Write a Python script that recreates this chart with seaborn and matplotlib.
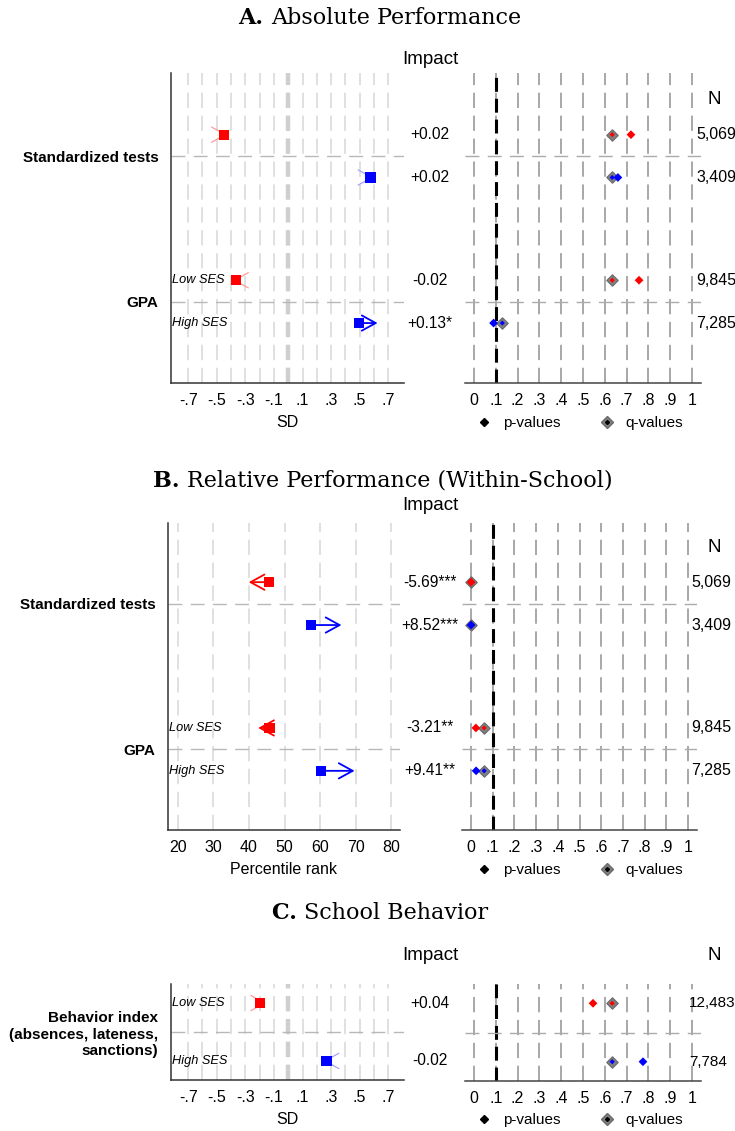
import matplotlib
matplotlib.use("Agg")
import matplotlib.pyplot as plt
import seaborn as sns
import pandas as pd
import numpy as np
from matplotlib.lines import Line2D
from matplotlib.transforms import blended_transform_factory as btf

sns.set_style("white")
plt.rcParams["font.family"] = ["Liberation Sans", "DejaVu Sans"]
plt.rcParams["lines.scale_dashes"] = False
for k in ["text.color", "axes.labelcolor", "xtick.color", "ytick.color"]:
    plt.rcParams[k] = "black"

# ---------------- data ----------------
RED, BLUE = "#ff0000", "#0000ff"
PALE = {RED: "#ff9c9c", BLUE: "#a4a4ff"}

titles = [("A.", "Absolute Performance"),
          ("B.", "Relative Performance (Within-School)"),
          ("C.", "School Behavior")]

groups_AB = ["Standardized tests", "GPA"]
group_C = ["Behavior index\n(absences, lateness,\nsanctions)"]
ses_labels = ["Low SES", "High SES"]

row_colors = [RED, BLUE, RED, BLUE]
row_colors_C = [RED, BLUE]

A_base = [-0.45, 0.575, -0.365, 0.495]
A_impact = [0.02, 0.02, -0.02, 0.13]
A_impact_text = ["+0.02", "+0.02", "-0.02", "+0.13*"]
A_sig = [False, False, False, True]
A_p = [0.72, 0.66, 0.757, 0.09]
A_q = [0.634, 0.634, 0.634, 0.13]
A_N = ["5,069", "3,409", "9,845", "7,285"]

B_base = [45.6, 57.5, 45.8, 60.3]
B_impact = [-5.69, 8.52, -3.21, 9.41]
B_impact_text = ["-5.69***", "+8.52***", "-3.21**", "+9.41**"]
B_sig = [True, True, True, True]
B_p = [0.001, 0.001, 0.023, 0.024]
B_q = [0.001, 0.001, 0.061, 0.061]
B_N = ["5,069", "3,409", "9,845", "7,285"]

C_base = [-0.195, 0.268]
C_impact = [0.04, -0.02]
C_impact_text = ["+0.04", "-0.02"]
C_sig = [False, False]
C_p = [0.546, 0.775]
C_q = [0.634, 0.634]
C_N = ["12,483", "7,784"]

sd_ticks = [-0.7, -0.5, -0.3, -0.1, 0.1, 0.3, 0.5, 0.7]
sd_ticklabels = ["-.7", "-.5", "-.3", "-.1", ".1", ".3", ".5", ".7"]
pct_ticks = [20, 30, 40, 50, 60, 70, 80]
pct_ticklabels = ["20", "30", "40", "50", "60", "70", "80"]
p_ticks = [0, 0.1, 0.2, 0.3, 0.4, 0.5, 0.6, 0.7, 0.8, 0.9, 1.0]
p_ticklabels = ["0", ".1", ".2", ".3", ".4", ".5", ".6", ".7", ".8", ".9", "1"]

# ---------------- layout ----------------
W, H = 735, 1131
fig = plt.figure(figsize=(W / 100, H / 100), dpi=100)


def box(x0, y0, x1, y1):
    return [x0 / W, 1 - y1 / H, (x1 - x0) / W, (y1 - y0) / H]


def fx(x):
    return x / W


def fy(y):
    return 1 - y / H


VDASH = (0, (11, 5.5))
HDASH = (0, (10, 6))
FS = 11.2


def left_panel(ax, base, impact, itext, sig, colors, ypos, ylim, seps,
               groups, sub_rows, xlim, ticks, ticklabels, grid, zero, xlabel,
               impact_x):
    df = pd.DataFrame({"base": base, "y": ypos, "color": colors})
    ax.set_xlim(*xlim)
    ax.set_ylim(*ylim)
    for g in grid:
        ax.axvline(g, color="#dddddd", lw=1.3, ls=VDASH, zorder=0)
    if zero:
        ax.axvline(0, color="#cfcfcf", lw=3.2, ls=VDASH, zorder=0)
    for s in seps:
        ax.axhline(s, color="#b8b8b8", lw=1.0, ls=HDASH, zorder=1)
    for b, d, yy, c, sg in zip(base, impact, ypos, colors, sig):
        col = c if sg else PALE[c]
        ax.annotate("", xy=(b + d, yy), xytext=(b, yy),
                    arrowprops=dict(arrowstyle="->,head_length=1.0,head_width=0.55",
                                    color=col, lw=1.3 if sg else 0.9,
                                    shrinkA=0, shrinkB=0, mutation_scale=10),
                    zorder=3)
    sns.scatterplot(data=df, x="base", y="y", hue="color",
                    palette={RED: RED, BLUE: BLUE}, marker="s", s=55,
                    linewidth=0, legend=False, ax=ax, zorder=5)
    ax.set_xticks(ticks)
    ax.set_xticklabels(ticklabels, fontsize=11.5)
    ax.set_yticks(seps)
    ax.set_yticklabels(groups, fontsize=11, fontweight="bold")
    ax.tick_params(axis="x", length=0, pad=7)
    ax.tick_params(axis="y", length=6, width=1, color="#333333", pad=3)
    ax.set_xlabel(xlabel, fontsize=11.5, labelpad=5)
    ax.set_ylabel("")
    for sp in ["top", "right"]:
        ax.spines[sp].set_visible(False)
    for sp in ["left", "bottom"]:
        ax.spines[sp].set_color("#333333")
        ax.spines[sp].set_linewidth(1.1)
    tr_sub = btf(ax.transAxes, ax.transData)
    for i in sub_rows:
        ax.text(0.004, ypos[i], ses_labels[i % 2], transform=tr_sub,
                ha="left", va="center", fontsize=9.2, style="italic")
    tr_imp = btf(fig.transFigure, ax.transData)
    for t, yy in zip(itext, ypos):
        ax.text(fx(impact_x), yy, t, transform=tr_imp, ha="center",
                va="center", fontsize=FS)


def right_panel(ax, pv, qv, N, colors, ypos, ylim, seps, n_x, legend_y,
                n_fs=11.5):
    df = pd.DataFrame({"p": pv, "q": qv, "y": ypos, "color": colors})
    pal = {RED: RED, BLUE: BLUE}
    ax.set_xlim(-0.041, 1.041)
    ax.set_ylim(*ylim)
    for g in p_ticks:
        ax.axvline(g, color="#9a9a9a", lw=1.2, ls=VDASH, zorder=0)
    ax.axvline(0.1, color="black", lw=2.2, ls=(0, (10, 5)), zorder=1)
    for s in seps:
        ax.axhline(s, color="#ababab", lw=1.0, ls=HDASH, zorder=1)
    sns.scatterplot(data=df, x="q", y="y", marker="D", s=34, color="#808080",
                    edgecolor="#6a6a6a", linewidth=0.8, legend=False, ax=ax,
                    zorder=4)
    sns.scatterplot(data=df, x="q", y="y", hue="color", palette=pal,
                    marker="D", s=7, linewidth=0, legend=False, ax=ax,
                    zorder=5)
    sns.scatterplot(data=df, x="p", y="y", hue="color", palette=pal,
                    marker="D", s=20, linewidth=0, legend=False, ax=ax,
                    zorder=6)
    ax.set_xticks(p_ticks)
    ax.set_xticklabels(p_ticklabels, fontsize=11.5)
    ax.set_yticks([])
    ax.tick_params(axis="x", length=0, pad=7)
    ax.set_xlabel("")
    ax.set_ylabel("")
    for sp in ["top", "right", "left"]:
        ax.spines[sp].set_visible(False)
    ax.spines["bottom"].set_color("#444444")
    ax.spines["bottom"].set_linewidth(1.1)
    tr = btf(fig.transFigure, ax.transData)
    for t, yy in zip(N, ypos):
        ax.text(fx(n_x), yy, t, transform=tr, ha="left", va="center",
                fontsize=n_fs, clip_on=False)
    h_p = Line2D([], [], marker="D", color="black", ls="none", markersize=4)
    h_q1 = Line2D([], [], marker="D", color="#808080", mec="#6a6a6a",
                  ls="none", markersize=6.5)
    h_q2 = Line2D([], [], marker="D", color="black", ls="none", markersize=2)
    ax.legend([h_p, (h_q1, h_q2)], ["p-values", "q-values"], ncol=2,
              loc="center", bbox_to_anchor=(fx(580), fy(legend_y)),
              bbox_transform=fig.transFigure, frameon=False, fontsize=11,
              handlelength=1.0, handletextpad=0.7, columnspacing=2.6)


def title(text_bold, text_rest, cx, cy):
    r = fig.canvas.get_renderer()
    kw = dict(fontsize=16, family="DejaVu Serif", va="center")
    t1 = fig.text(0, fy(cy), text_bold + " ", fontweight="bold", **kw)
    t2 = fig.text(0, fy(cy), text_rest, **kw)
    w1 = t1.get_window_extent(r).width
    w2 = t2.get_window_extent(r).width
    x0 = cx - (w1 + w2) / 2
    t1.set_x(fx(x0))
    t2.set_x(fx(x0 + w1))


ypos4 = [1.0, 2.0, 4.4, 5.4]
seps4 = [1.5, 4.9]
ylim4 = (6.8, -0.44)

# ---- Panel A ----
axA = fig.add_axes(box(171, 73, 404, 383))
left_panel(axA, A_base, A_impact, A_impact_text, A_sig, row_colors, ypos4,
           ylim4, seps4, groups_AB, [2, 3], (-0.82, 0.81), sd_ticks,
           sd_ticklabels, np.round(np.arange(-0.7, 0.71, 0.1), 1), True, "SD",
           430)
axA2 = fig.add_axes(box(465, 73, 701, 383))
right_panel(axA2, A_p, A_q, A_N, row_colors, ypos4, ylim4, seps4, 696, 423)

# ---- Panel B ----
ylimB = (6.78, -0.38)
axB = fig.add_axes(box(168, 523, 400, 830))
left_panel(axB, B_base, B_impact, B_impact_text, B_sig, row_colors, ypos4,
           ylimB, seps4, groups_AB, [2, 3], (17.2, 82.5), pct_ticks,
           pct_ticklabels, pct_ticks, False, "Percentile rank", 430)
axB2 = fig.add_axes(box(462, 523, 697, 830))
right_panel(axB2, B_p, B_q, B_N, row_colors, ypos4, ylimB, seps4, 691, 870)

# ---- Panel C ----
yposC = [0.0, 1.0]
sepsC = [0.5]
ylimC = (1.33, -0.33)
axC = fig.add_axes(box(171, 984, 404, 1080))
left_panel(axC, C_base, C_impact, C_impact_text, C_sig, row_colors_C, yposC,
           ylimC, sepsC, group_C, [0, 1], (-0.82, 0.81), sd_ticks,
           sd_ticklabels, np.round(np.arange(-0.7, 0.71, 0.1), 1), True, "SD",
           430)
axC2 = fig.add_axes(box(465, 984, 701, 1081))
right_panel(axC2, C_p, C_q, C_N, row_colors_C, yposC, ylimC, sepsC, 689,
            1120, n_fs=11)

# ---- headers ----
for y in [59, 505, 956]:
    fig.text(fx(430), fy(y), "Impact", ha="center", va="center", fontsize=13.5)
for y in [99, 547, 955]:
    fig.text(fx(714), fy(y), "N", ha="center", va="center", fontsize=13.5)

title(*titles[0], 380, 18)
title(*titles[1], 383, 481)
title(*titles[2], 380, 913)

fig.savefig("out.png", dpi=100)
